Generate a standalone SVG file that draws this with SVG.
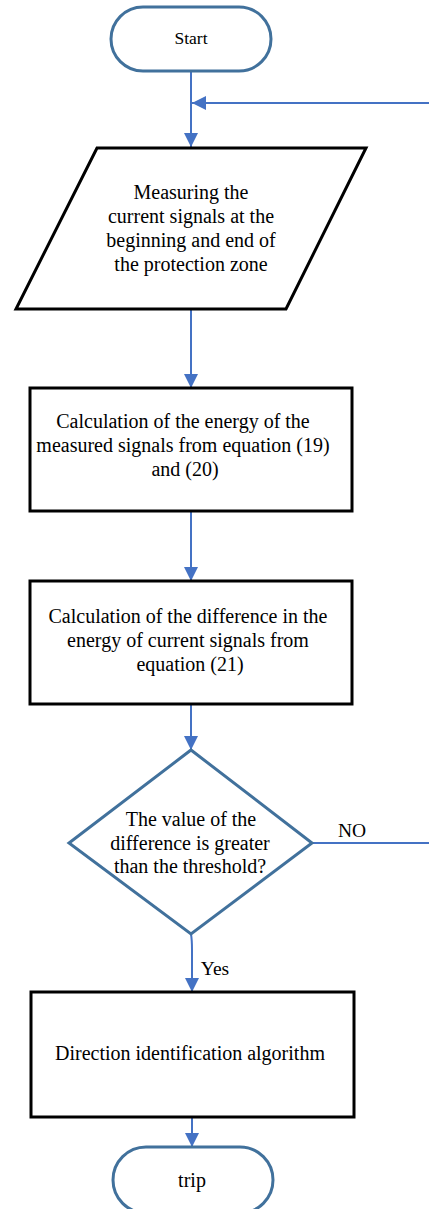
<svg xmlns="http://www.w3.org/2000/svg" width="429" height="1209" viewBox="0 0 429 1209">
<style>
.term{fill:#fff;stroke:#41719C;stroke-width:3}
.dec{fill:#fff;stroke:#41719C;stroke-width:3}
.proc{fill:#fff;stroke:#000;stroke-width:3}
.conn{fill:none;stroke:#4472C4;stroke-width:2}
text{font-family:"Liberation Serif","Times New Roman",serif;fill:#000;text-anchor:middle}
.t{font-size:20px}
.s{font-size:17.5px}
.l{font-size:19.5px}
</style>
<defs>
<marker id="ahb" viewBox="0 0 10 10" refX="10" refY="5" markerWidth="14" markerHeight="14" orient="auto" markerUnits="userSpaceOnUse">
<path d="M0,0 L10,5 L0,10 Z" fill="#4472C4"/>
</marker>
</defs>
<g id="connectors">
<path class="conn" d="M191,71 V147" marker-end="url(#ahb)"/>
<path class="conn" d="M312,843 H432 V103 H192" marker-end="url(#ahb)"/>
<path class="conn" d="M191,309 V388" marker-end="url(#ahb)"/>
<path class="conn" d="M191,511 V581" marker-end="url(#ahb)"/>
<path class="conn" d="M191,704 V750" marker-end="url(#ahb)"/>
<path class="conn" d="M191,934 Q192,940 192,950 V992" marker-end="url(#ahb)"/>
<path class="conn" d="M192,1117 V1147" marker-end="url(#ahb)"/>
<text class="l" x="352" y="837">NO</text>
<text class="l" x="215" y="975">Yes</text>
</g>
<g id="start">
<rect class="term" x="111" y="7" width="160" height="64" rx="32" ry="32"/>
<text class="s" x="191" y="44">Start</text>
</g>
<g id="measure">
<polygon class="proc" points="97,148 366,148 286,309 16,309"/>
<text class="t" x="191" y="199">Measuring the</text>
<text class="t" x="191" y="223">current signals at the</text>
<text class="t" x="191" y="247">beginning and end of</text>
<text class="t" x="191" y="271">the protection zone</text>
</g>
<g id="energy">
<rect class="proc" x="30" y="388" width="322" height="123"/>
<text class="t" x="183" y="428">Calculation of the energy of the</text>
<text class="t" x="183" y="452">measured signals from equation (19)</text>
<text class="t" x="185" y="476">and (20)</text>
</g>
<g id="difference">
<rect class="proc" x="30" y="581" width="322" height="123"/>
<text class="t" x="188" y="623">Calculation of the difference in the</text>
<text class="t" x="188" y="647">energy of current signals from</text>
<text class="t" x="190" y="671">equation (21)</text>
</g>
<g id="decision">
<polygon class="dec" points="191,750 312,843 191,934 69,843"/>
<text class="t" x="191" y="826">The value of the</text>
<text class="t" x="190" y="850">difference is greater</text>
<text class="t" x="190" y="873">than the threshold?</text>
</g>
<g id="direction">
<rect class="proc" x="31" y="992" width="323" height="125"/>
<text class="t" x="190" y="1060">Direction identification algorithm</text>
</g>
<g id="trip">
<rect class="term" x="113" y="1147" width="160" height="66" rx="33" ry="33"/>
<text class="t" x="192" y="1187">trip</text>
</g>
</svg>
